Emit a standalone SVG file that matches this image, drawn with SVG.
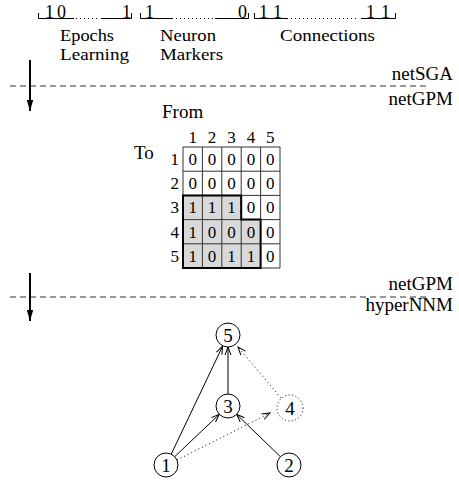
<svg xmlns="http://www.w3.org/2000/svg" width="459" height="486" viewBox="0 0 459 486">
  <defs>
    <style>
      text { font-family: "Liberation Serif", "Times New Roman", serif; fill: #000; }
      .lbl { font-size: 19px; }
      .fld { font-size: 17px; }
      .dig { font-size: 18px; }
      .cell { font-size: 17px; text-anchor: middle; }
      .hdr { font-size: 17px; text-anchor: middle; }
      .row { font-size: 17px; text-anchor: end; }
      .right { font-size: 19px; text-anchor: end; }
      .bracket { fill: none; stroke: #000; stroke-width: 1; }
      .dots { fill: none; stroke: #000; stroke-width: 1; stroke-dasharray: 1 3; }
      .divider { fill: none; stroke: #333; stroke-width: 1; stroke-dasharray: 6 4; }
      .grid { fill: none; stroke: #333; stroke-width: 1; }
      .shade { fill: #d9d9d9; stroke: none; }
      .outline { fill: none; stroke: #000; stroke-width: 2; }
      .node circle { fill: #fff; stroke: #000; stroke-width: 1; }
      .node.ghost circle { stroke-dasharray: 1 2.5; }
      .node text { font-size: 19px; text-anchor: middle; }
      .edge { fill: none; stroke: #000; stroke-width: 1; marker-end: url(#vee); }
      .edge.dotted { stroke-dasharray: 1 3; }
    </style>
    <marker id="vee" markerUnits="userSpaceOnUse" markerWidth="12" markerHeight="10" refX="0" refY="0" viewBox="-10 -5 12 10" orient="auto" overflow="visible">
      <path d="M-8,-3 L0,0 L-8,3" fill="none" stroke="#000" stroke-width="1"/>
    </marker>
    <marker id="solidhead" markerUnits="userSpaceOnUse" markerWidth="12" markerHeight="8" refX="0" refY="0" viewBox="-12 -4 12 8" orient="auto" overflow="visible">
      <path d="M-11,-3.2 L0,0 L-11,3.2 Z" fill="#000"/>
    </marker>
  </defs>

  <!-- chromosome string: three bracketed fields -->
  <g id="chromosome">
    <g id="field-epochs">
      <path class="bracket" d="M38.5,13 V18.5 H74 M101,18.5 H131.5 V13"/>
      <path class="dots" d="M76,18.5 H100"/>
      <text class="dig" x="45" y="18">1</text>
      <text class="dig" x="57" y="18">0</text>
      <text class="dig" x="122" y="18">1</text>
      <text class="fld" x="60" y="41" textLength="54" lengthAdjust="spacingAndGlyphs">Epochs</text>
      <text class="fld" x="60" y="60" textLength="69" lengthAdjust="spacingAndGlyphs">Learning</text>
    </g>
    <g id="field-markers">
      <path class="bracket" d="M140.5,13 V18.5 H173 M215,18.5 H248.5 V13"/>
      <path class="dots" d="M176,18.5 H213"/>
      <text class="dig" x="145" y="18">1</text>
      <text class="dig" x="238" y="18">0</text>
      <text class="fld" x="160" y="41" textLength="56" lengthAdjust="spacingAndGlyphs">Neuron</text>
      <text class="fld" x="160" y="60" textLength="63" lengthAdjust="spacingAndGlyphs">Markers</text>
    </g>
    <g id="field-connections">
      <path class="bracket" d="M254.5,13 V18.5 H288 M361,18.5 H395.5 V13"/>
      <path class="dots" d="M291,18.5 H359"/>
      <text class="dig" x="259" y="18">1</text>
      <text class="dig" x="273" y="18">1</text>
      <text class="dig" x="366" y="18">1</text>
      <text class="dig" x="381" y="18">1</text>
      <text class="fld" x="280" y="41" textLength="95" lengthAdjust="spacingAndGlyphs">Connections</text>
    </g>
  </g>

  <!-- stage boundaries -->
  <g id="stage-netSGA-netGPM">
    <line class="divider" x1="10" y1="86" x2="426" y2="86"/>
    <line x1="30" y1="60" x2="30" y2="111" stroke="#000" stroke-width="2" marker-end="url(#solidhead)"/>
    <text class="right" x="453" y="80">netSGA</text>
    <text class="right" x="453" y="105">netGPM</text>
  </g>

  <!-- connection matrix -->
  <g id="matrix">
    <text class="lbl" x="162" y="118">From</text>
    <text class="lbl" x="134" y="159">To</text>
    <text class="hdr" x="192.7" y="143">1</text>
    <text class="hdr" x="212.1" y="143">2</text>
    <text class="hdr" x="231.5" y="143">3</text>
    <text class="hdr" x="250.9" y="143">4</text>
    <text class="hdr" x="270.3" y="143">5</text>
    <text class="row" x="179" y="165">1</text>
    <text class="row" x="179" y="189.2">2</text>
    <text class="row" x="179" y="213.4">3</text>
    <text class="row" x="179" y="237.6">4</text>
    <text class="row" x="179" y="261.8">5</text>

    <path class="shade" d="M183,195.4 H241.2 V219.6 H260.6 V268 H183 Z"/>
    <path class="grid" d="M183,147 H280 V268 H183 Z
      M202.4,147 V268 M221.8,147 V268 M241.2,147 V268 M260.6,147 V268
      M183,171.2 H280 M183,195.4 H280 M183,219.6 H280 M183,243.8 H280"/>
    <path class="outline" d="M183,195.4 H241.2 V219.6 H260.6 V268 H183 Z"/>

    <g>
      <text class="cell" x="192.7" y="165">0</text><text class="cell" x="212.1" y="165">0</text><text class="cell" x="231.5" y="165">0</text><text class="cell" x="250.9" y="165">0</text><text class="cell" x="270.3" y="165">0</text>
      <text class="cell" x="192.7" y="189.2">0</text><text class="cell" x="212.1" y="189.2">0</text><text class="cell" x="231.5" y="189.2">0</text><text class="cell" x="250.9" y="189.2">0</text><text class="cell" x="270.3" y="189.2">0</text>
      <text class="cell" x="192.7" y="213.4">1</text><text class="cell" x="212.1" y="213.4">1</text><text class="cell" x="231.5" y="213.4">1</text><text class="cell" x="250.9" y="213.4">0</text><text class="cell" x="270.3" y="213.4">0</text>
      <text class="cell" x="192.7" y="237.6">1</text><text class="cell" x="212.1" y="237.6">0</text><text class="cell" x="231.5" y="237.6">0</text><text class="cell" x="250.9" y="237.6">0</text><text class="cell" x="270.3" y="237.6">0</text>
      <text class="cell" x="192.7" y="261.8">1</text><text class="cell" x="212.1" y="261.8">0</text><text class="cell" x="231.5" y="261.8">1</text><text class="cell" x="250.9" y="261.8">1</text><text class="cell" x="270.3" y="261.8">0</text>
    </g>
  </g>

  <g id="stage-netGPM-hyperNNM">
    <line class="divider" x1="10" y1="297" x2="426" y2="297"/>
    <line x1="30" y1="273" x2="30" y2="321" stroke="#000" stroke-width="2" marker-end="url(#solidhead)"/>
    <text class="right" x="453" y="290">netGPM</text>
    <text class="right" x="453" y="311">hyperNNM</text>
  </g>

  <!-- network graph connectors -->
  <g id="connectors">
    <line class="edge" x1="171.2" y1="454.2" x2="222.6" y2="346.2"/>
    <line class="edge" x1="174.7" y1="456.7" x2="219.3" y2="414.3"/>
    <line class="edge" x1="228" y1="394" x2="228" y2="347"/>
    <line class="edge" x1="280.4" y1="456.7" x2="236.6" y2="414.3"/>
    <line class="edge dotted" x1="177" y1="460" x2="270" y2="413"/>
    <line class="edge dotted" x1="281" y1="398" x2="238" y2="347"/>
  </g>

  <!-- network graph nodes -->
  <g id="node-5" class="node"><circle cx="228" cy="335" r="12"/><text x="228" y="341.5">5</text></g>
  <g id="node-3" class="node"><circle cx="228" cy="406" r="12"/><text x="228" y="412.5">3</text></g>
  <g id="node-4" class="node ghost"><circle cx="290" cy="408" r="13"/><text x="290" y="414.5">4</text></g>
  <g id="node-1" class="node"><circle cx="166" cy="465" r="12"/><text x="166" y="471.5">1</text></g>
  <g id="node-2" class="node"><circle cx="289" cy="465" r="12"/><text x="289" y="471.5">2</text></g>
</svg>
